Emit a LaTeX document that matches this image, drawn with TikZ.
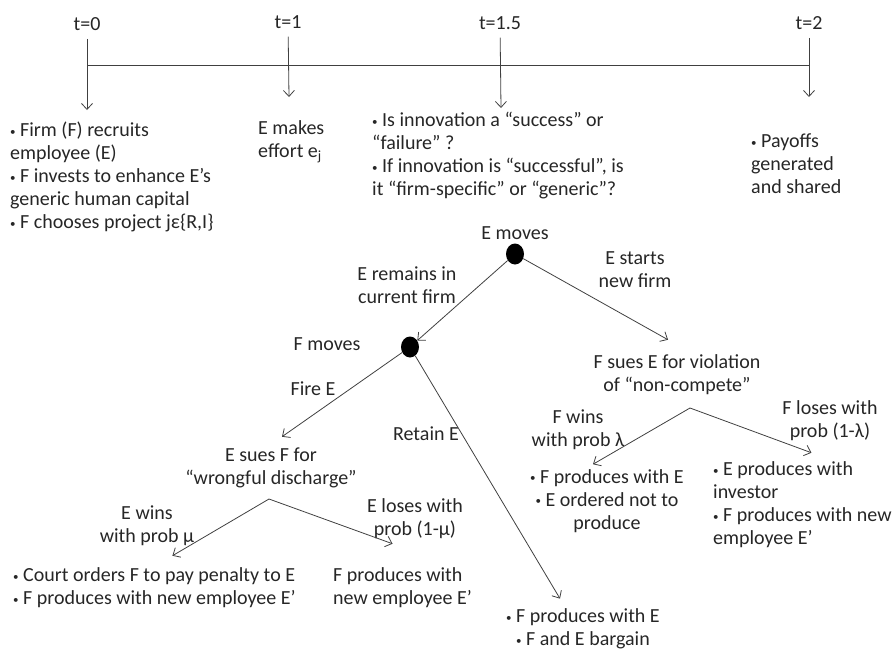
\documentclass[tikz,border=0pt]{standalone}
\usepackage{fontspec}
\setmainfont{Carlito}
\usetikzlibrary{arrows.meta,shapes.geometric}
\newcommand{\bul}{\raisebox{1.6pt}{\fontsize{11}{11}\selectfont •}\ }

\begin{document}
\begin{tikzpicture}[x=1pt, y=-1pt,
    txt/.style={font=\fontsize{20}{23}\selectfont, text=black!85, inner sep=0pt},
    lft/.style={txt, align=left, anchor=west},
    ctr/.style={txt, align=center},
    arr/.style={draw=black!75, line width=0.8pt, -{Straight Barb[length=6pt,width=11pt]}},
    tick/.style={arr, shorten <=8pt},
    dot/.style={ellipse, fill=black, minimum width=18pt, minimum height=21pt, inner sep=0pt}]
    \useasboundingbox (0,0) rectangle (894,648);

    \coordinate (tl0) at (88,65);
    \coordinate (tl2) at (810,65);
    \coordinate (tk0) at (87,110);
    \coordinate (tk1) at (289,97);
    \coordinate (tk15) at (501,108);
    \coordinate (tk2) at (809,97);
    \coordinate (wdfork) at (269,499);
    \coordinate (ncfork) at (690,408);

    \node [ctr] (lab0) at (87,24) {t=0};
    \node [ctr] (lab1) at (288,22) {t=1};
    \node [ctr] (lab15) at (500,23) {t=1.5};
    \node [ctr] (lab2) at (809,23) {t=2};

    \node [lft] (blk0) at (10,177) {\bul Firm (F) recruits\\employee (E)\\\bul F invests to enhance E’s\\generic human capital\\\bul F chooses project jε\{R,I\}};
    \node [lft] (blk1) at (258,142) {E makes\\effort e\textsubscript{j}};
    \node [lft] (blk15) at (372,156) {\bul Is innovation a “success” or\\“failure” ?\\\bul If innovation is “successful”, is\\it “firm-specific” or “generic”?};
    \node [lft] (blk2) at (751,164) {\bul Payoffs\\generated\\and shared};

    \node [dot] (emv) at (515,254) {};
    \node [dot] (fmv) at (410,347) {};
    \node [ctr] (labE) at (515,233) {E moves};
    \node [ctr] (labF) at (327,344) {F moves};
    \node [ctr] (remain) at (407,285) {E remains in\\current firm};
    \node [ctr] (starts) at (635,270) {E starts\\new firm};
    \node [ctr] (sueE) at (677,375) {F sues E for violation\\of “non-compete”};
    \node [ctr] (fire) at (313,389) {Fire E};
    \node [ctr] (retain) at (426,434) {Retain E};
    \node [ctr] (suesF) at (271,468) {E sues F for\\“wrongful discharge”};
    \node [ctr] (ewins) at (147,526) {E wins\\with prob μ};
    \node [ctr] (eloses) at (415,519) {E loses with\\prob (1-μ)};
    \node [lft] (court) at (13,588) {\bul Court orders F to pay penalty to E\\\bul F produces with new employee E’};
    \node [lft] (newE) at (333,588) {F produces with\\new employee E’};
    \node [ctr] (retres) at (583,629) {\bul F produces with E\\\bul F and E bargain};
    \node [ctr] (fwins) at (578,430) {F wins\\with prob λ};
    \node [ctr] (floses) at (830,421) {F loses with\\prob (1-λ)};
    \node [ctr] (keepE) at (607,501) {\bul F produces with E\\\bul E ordered not to\\produce};
    \node [lft] (invest) at (713,505) {\bul E produces with\\investor\\\bul F produces with new\\employee E’};

    \draw [black!75, line width=0.8pt] (tl0) -- (tl2);
    \draw [tick] (lab0) -- (tk0);
    \draw [tick] (lab1) -- (tk1);
    \draw [tick] (lab15) -- (tk15);
    \draw [tick] (lab2) -- (tk2);

    \draw [arr] (emv) -- (fmv);
    \draw [arr] (emv) -- ([xshift=-9pt, yshift=15pt]sueE.north);
    \draw [arr] (fmv) -- ([xshift=11pt, yshift=11pt]suesF.north);
    \draw [arr] (fmv) -- ([xshift=-23pt, yshift=10pt]retres.north);
    \draw [arr] (wdfork) -- ([xshift=18pt, yshift=12pt]court.north);
    \draw [arr] (wdfork) -- ([xshift=-10pt, yshift=24pt]newE.north);
    \draw [arr] (ncfork) -- ([xshift=-14pt, yshift=5pt]keepE.north);
    \draw [arr] (ncfork) -- ([xshift=9pt, yshift=9pt]invest.north);
  \end{tikzpicture}
\end{document}
